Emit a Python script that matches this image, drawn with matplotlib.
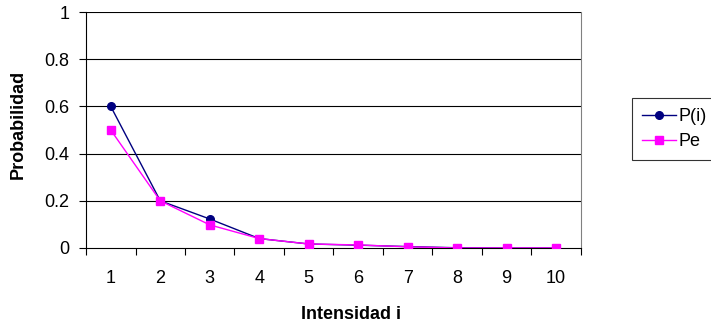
import matplotlib

matplotlib.use("Agg")

import matplotlib.pyplot as plt

plt.rcParams["font.family"] = ["Liberation Sans", "DejaVu Sans"]

intensity = [1, 2, 3, 4, 5, 6, 7, 8, 9, 10]
p_i = [0.6, 0.2, 0.123, 0.04, 0.017, 0.012, 0.006, 0.001, 0.0, 0.0]
p_e = [0.5, 0.2, 0.098, 0.04, 0.017, 0.013, 0.005, 0.0, 0.0, 0.0]
y_ticks = [0, 0.2, 0.4, 0.6, 0.8, 1]
y_tick_labels = ["0", "0.2", "0.4", "0.6", "0.8", "1"]

FS = 13

fig = plt.figure(figsize=(7.11, 3.27), dpi=100)
ax = fig.add_axes([0.121, 0.2416, 0.696, 0.7214])

ax.plot(intensity, p_i, color="#000080", marker="o", markersize=5.5,
        linewidth=1, label="P(i)", zorder=3)
ax.plot(intensity, p_e, color="#FF00FF", marker="s", markersize=5.5,
        linewidth=1, label="Pe", zorder=4)

ax.set_xlim(0.5, 10.5)
ax.set_ylim(0, 1)
ax.set_yticks(y_ticks)
ax.set_yticklabels(y_tick_labels)
for y in y_ticks[1:]:
    ax.axhline(y, color="black", linewidth=0.8, zorder=1)

ax.set_xticks(intensity)
ax.set_xticklabels([str(i) for i in intensity])
ax.set_xticks([i + 0.5 for i in range(0, 11)], minor=True)
ax.tick_params(axis="x", which="major", length=0, pad=16, labelsize=FS)
ax.tick_params(axis="x", which="minor", length=5, width=0.8, direction="out")
ax.tick_params(axis="y", length=5, width=0.8, direction="out", pad=7,
               labelsize=FS)

ax.spines["top"].set_visible(False)
ax.spines["right"].set_color("#808080")
ax.spines["left"].set_linewidth(0.8)
ax.spines["bottom"].set_linewidth(0.8)

ax.set_xlabel("Intensidad i", fontsize=FS, fontweight="bold", va="center")
ax.xaxis.set_label_coords(0.535, -0.28)
ax.set_ylabel("Probabilidad", fontsize=FS, fontweight="bold", va="center")
ax.yaxis.set_label_coords((18 - 86) / 495, (248 - 124) / 236)

leg = fig.legend(loc="upper left", bbox_to_anchor=(632 / 711, 1 - 98 / 327),
                 frameon=True, fancybox=False, fontsize=FS,
                 handlelength=1.9, borderpad=0.55, labelspacing=0.47,
                 handletextpad=0.15, borderaxespad=0)
leg.get_frame().set_edgecolor("black")
leg.get_frame().set_linewidth(0.8)

fig.savefig("out.png", dpi=100)
plt.close(fig)
